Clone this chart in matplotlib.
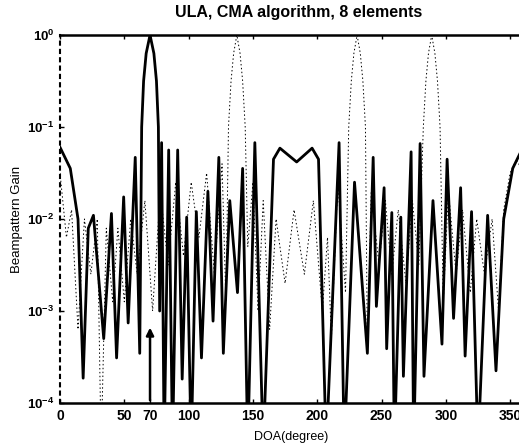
import numpy as np
import matplotlib
matplotlib.use('Agg')
import matplotlib.pyplot as plt
from matplotlib.ticker import FixedLocator, FuncFormatter, NullLocator

plt.rcParams['font.family'] = ['Liberation Sans', 'DejaVu Sans']
plt.rcParams['mathtext.fontset'] = 'custom'
plt.rcParams['mathtext.rm'] = 'Liberation Sans'
plt.rcParams['mathtext.bf'] = 'Liberation Sans:bold'

# CMA beampattern (thick line): DOA in degrees, log10 of gain
cma_doa = [0, 8, 14, 18, 22, 26, 34, 40, 44, 49.5, 53, 58.5, 62,
           63.5, 65, 67, 70, 73, 75, 76.5, 77.5, 79, 81, 84.5, 87.5, 91.5,
           95, 98.5, 102, 106, 110, 115, 119, 123.5, 127, 132, 138, 142,
           146, 151.5, 158, 166, 171, 184, 196, 201, 207, 217, 221, 229,
           239, 243.5, 246, 252, 254, 258, 260, 265, 267, 273, 275, 280,
           283, 290, 297, 301, 306, 311.5, 315, 320, 325, 332.5, 339, 345,
           352, 360]
cma_log = [-1.22, -1.45, -2.0, -3.73, -2.1, -1.96, -3.3, -1.94, -3.51, -1.76, -3.13, -1.33, -3.46,
           -1.0, -0.5, -0.2, 0.0, -0.2, -0.5, -1.0, -3.0, -1.17, -4.5, -1.25, -4.5, -1.25,
           -3.74, -1.98, -4.5, -1.92, -3.51, -1.7, -3.11, -1.33, -3.46, -1.8, -2.8, -1.45,
           -4.5, -1.17, -4.5, -1.35, -1.23, -1.38, -1.23, -1.35, -4.5, -1.17, -4.5, -1.6,
           -3.46, -1.33, -2.95, -1.66, -3.41, -1.93, -4.5, -1.98, -3.71, -1.27, -4.5, -1.18,
           -3.71, -1.8, -3.36, -1.35, -3.08, -1.66, -3.49, -1.92, -4.5, -1.96, -3.65, -2.0,
           -1.45, -1.22]

# second pattern (thin dotted line)
ref_doa = [0, 5, 9, 14, 19, 24, 29, 32, 36, 41, 45, 50, 55, 60, 66, 72, 78, 84,
           90, 96, 102, 108, 114, 120, 126, 129, 131, 133, 135, 137.5, 140, 142,
           144, 146, 150, 154, 158, 163, 168, 175, 182, 190, 197, 204, 208, 211, 216,
           222, 224.5, 226.5, 228.5, 231, 233.5, 235.5, 237.5, 239, 242, 248, 253, 258, 263, 269, 274,
           279, 282.5, 284.5, 286.5, 289, 291.5, 293.5, 295.5, 298, 302, 308, 313, 319, 324, 330, 336,
           341, 345, 350, 355, 360]
ref_log = [-1.5, -2.2, -1.9, -3.2, -2.0, -2.6, -2.0, -4.5, -2.1, -2.9, -2.1, -2.9, -2.0, -2.6, -1.8, -3.0, -1.7, -2.5,
           -1.6, -2.4, -1.6, -2.2, -1.5, -2.6, -1.4, -2.9, -1.0, -0.5, -0.2, 0.0, -0.2, -0.5,
           -1.0, -2.3, -1.6, -3.0, -1.8, -3.2, -2.0, -2.7, -1.9, -2.6, -1.8, -3.0, -2.2, -3.3, -1.6,
           -2.8, -1.0, -0.5, -0.2, 0.0, -0.2, -0.5, -1.0, -3.46, -1.7, -2.5, -1.8, -2.6, -1.9, -2.7, -1.8,
           -2.5, -1.0, -0.5, -0.2, 0.0, -0.2, -0.5, -1.0, -2.9, -1.7, -2.6, -1.9, -2.8, -2.0, -2.6, -2.0,
           -3.0, -1.9, -1.5, -1.35, -1.5]

desired_doa = 70
arrow_top_log = -3.15

xtick_vals = [0, 50, 70, 100, 150, 200, 250, 300, 350]
ytick_exps = [-4, -3, -2, -1, 0]

W, H = 519, 446
fig = plt.figure(figsize=(W / 100, H / 100), dpi=100)
ax = fig.add_axes([60 / W, 43 / H, 463 / W, 368 / H])

ax.semilogy(ref_doa, 10.0 ** np.array(ref_log), color='black', lw=0.7,
            linestyle=(0, (1.5, 2.5)))
ax.semilogy(cma_doa, 10.0 ** np.array(cma_log), color='black', lw=2.0)

ax.annotate('', xy=(desired_doa, 10.0 ** arrow_top_log), xytext=(desired_doa, 1e-4),
            arrowprops=dict(arrowstyle='-|>', color='black', lw=1.8, mutation_scale=11))

ax.set_xlim(0, 360)
ax.set_ylim(1e-4, 1)
ax.xaxis.set_major_locator(FixedLocator(xtick_vals))
ax.yaxis.set_major_locator(FixedLocator([10.0 ** e for e in ytick_exps]))
ax.yaxis.set_minor_locator(NullLocator())
ax.yaxis.set_major_formatter(FuncFormatter(lambda v, p: r'$\mathbf{10^{%d}}$' % round(np.log10(v))))
ax.tick_params(direction='in', top=True, right=True, length=3, width=1, pad=4)
for lab in ax.get_xticklabels():
    lab.set_fontweight('bold')
    lab.set_fontsize(10)
for lab in ax.get_yticklabels():
    lab.set_fontsize(9.5)

for s in ['top', 'bottom']:
    ax.spines[s].set_linewidth(1.8)
ax.spines['left'].set_linestyle((0, (1.5, 2.5)))
ax.spines['left'].set_linewidth(1.5)

ax.set_title('ULA, CMA algorithm, 8 elements', fontsize=11.5, fontweight='bold',
             pad=13, x=0.516)
ax.set_xlabel('DOA(degree)', fontsize=9, labelpad=6)
ax.set_ylabel('Beampattern Gain', fontsize=9.5, labelpad=3)

fig.savefig('out.png', dpi=100)
